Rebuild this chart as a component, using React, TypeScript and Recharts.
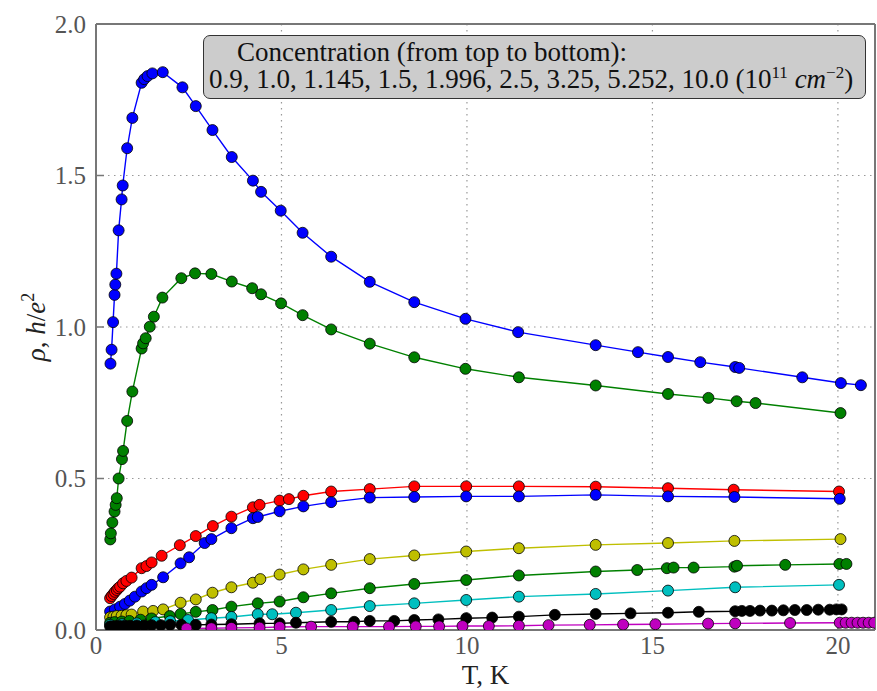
import React from 'react';
import { LineChart, Line, XAxis, YAxis, CartesianGrid } from 'recharts';

// rho(T) for each concentration: [T, rho]
const n0_9: [number, number][] = [
  [0.39, 0.879], [0.42, 0.925], [0.46, 1.016], [0.5, 1.106], [0.52, 1.14], [0.55, 1.176],
  [0.61, 1.319], [0.69, 1.421], [0.72, 1.467], [0.84, 1.59], [0.98, 1.69], [1.23, 1.806],
  [1.3, 1.818], [1.39, 1.828], [1.52, 1.837], [1.8, 1.841], [2.33, 1.791], [2.69, 1.729],
  [3.14, 1.65], [3.66, 1.561], [4.23, 1.483], [4.45, 1.446], [4.98, 1.384], [5.57, 1.311],
  [6.34, 1.232], [7.38, 1.149], [8.58, 1.082], [9.96, 1.027], [11.38, 0.983], [13.47, 0.94],
  [14.61, 0.917], [15.42, 0.901], [16.29, 0.884], [17.23, 0.868], [17.34, 0.865],
  [19.04, 0.834], [20.08, 0.815], [20.62, 0.808],
];
const n1_0: [number, number][] = [
  [0.385, 0.299], [0.4, 0.319], [0.44, 0.355], [0.5, 0.391], [0.53, 0.413], [0.56, 0.435],
  [0.61, 0.5], [0.7, 0.564], [0.73, 0.591], [0.84, 0.69], [0.98, 0.787], [1.23, 0.929],
  [1.27, 0.946], [1.34, 0.963], [1.45, 1.001], [1.56, 1.034], [1.79, 1.097], [2.3, 1.161],
  [2.67, 1.177], [3.11, 1.175], [3.66, 1.15], [4.21, 1.128], [4.45, 1.108], [4.99, 1.078],
  [5.57, 1.039], [6.34, 0.992], [7.38, 0.945], [8.58, 0.9], [9.96, 0.862], [11.4, 0.834],
  [13.47, 0.807], [15.42, 0.779], [16.51, 0.766], [17.27, 0.755], [17.78, 0.749], [20.07, 0.716],
];
const n1_145: [number, number][] = [
  [0.38, 0.105], [0.42, 0.112], [0.47, 0.119], [0.51, 0.126], [0.56, 0.132], [0.6, 0.138],
  [0.65, 0.143], [0.73, 0.154], [0.82, 0.162], [0.96, 0.173], [1.23, 0.204], [1.36, 0.211],
  [1.5, 0.223], [1.77, 0.245], [2.26, 0.28], [2.69, 0.31], [3.15, 0.343], [3.65, 0.374],
  [4.23, 0.405], [4.41, 0.413], [4.95, 0.427], [5.2, 0.432], [5.59, 0.443], [6.34, 0.457],
  [7.38, 0.465], [8.58, 0.474], [9.98, 0.474], [11.4, 0.474], [13.47, 0.473], [15.42, 0.468],
  [17.19, 0.463], [20.03, 0.457],
];
const n1_5: [number, number][] = [
  [0.38, 0.061], [0.51, 0.068], [0.65, 0.077], [0.78, 0.086], [0.91, 0.097], [1.05, 0.11],
  [1.23, 0.127], [1.36, 0.138], [1.5, 0.149], [1.81, 0.174], [2.28, 0.22], [2.51, 0.24],
  [2.93, 0.287], [3.11, 0.3], [3.65, 0.336], [4.23, 0.369], [4.36, 0.373], [4.95, 0.392],
  [5.59, 0.408], [6.34, 0.422], [7.38, 0.437], [8.58, 0.439], [9.98, 0.441], [11.4, 0.441],
  [13.47, 0.446], [15.42, 0.441], [17.21, 0.439], [20.05, 0.433],
];
const n1_996: [number, number][] = [
  [0.38, 0.042], [0.47, 0.044], [0.56, 0.046], [0.69, 0.047], [0.82, 0.049], [0.96, 0.051],
  [1.27, 0.061], [1.54, 0.063], [1.81, 0.068], [2.28, 0.09], [2.69, 0.101], [3.14, 0.123],
  [3.65, 0.141], [4.23, 0.156], [4.43, 0.168], [4.95, 0.183], [5.59, 0.2], [6.34, 0.215],
  [7.38, 0.234], [8.58, 0.246], [9.98, 0.259], [11.4, 0.27], [13.47, 0.281], [15.42, 0.287],
  [17.21, 0.294], [20.07, 0.3],
];
const n2_5: [number, number][] = [
  [0.38, 0.024], [0.5, 0.026], [0.7, 0.028], [0.9, 0.03], [1.2, 0.034], [1.5, 0.038],
  [1.99, 0.046], [2.28, 0.053], [2.69, 0.06], [3.14, 0.066], [3.65, 0.077], [4.36, 0.088],
  [4.95, 0.094], [5.59, 0.108], [6.34, 0.121], [7.38, 0.138], [8.58, 0.152], [9.98, 0.165],
  [11.4, 0.18], [13.47, 0.193], [14.59, 0.198], [15.39, 0.204], [15.57, 0.206], [16.11, 0.206],
  [17.21, 0.209], [17.28, 0.212], [18.58, 0.215], [20.04, 0.218], [20.23, 0.218],
];
const n3_25: [number, number][] = [
  [0.38, 0.017], [0.7, 0.019], [1.1, 0.022], [1.6, 0.026], [2.0, 0.029], [2.48, 0.033],
  [3.11, 0.039], [3.65, 0.043], [4.36, 0.052], [4.75, 0.052], [5.39, 0.057], [6.34, 0.066],
  [7.38, 0.079], [8.58, 0.088], [9.98, 0.099], [11.4, 0.11], [13.47, 0.119], [15.42, 0.13],
  [17.23, 0.141], [20.03, 0.149],
];
const n5_252: [number, number][] = [
  [0.38, 0.012], [0.45, 0.012], [0.55, 0.013], [0.65, 0.013], [0.78, 0.014], [0.92, 0.014],
  [1.1, 0.015], [1.3, 0.015], [1.5, 0.016], [1.75, 0.016], [2.0, 0.017], [2.3, 0.017],
  [2.69, 0.017], [3.11, 0.018], [3.65, 0.019], [4.41, 0.022], [4.95, 0.022], [5.39, 0.024],
  [6.34, 0.027], [6.96, 0.027], [7.38, 0.03], [8.04, 0.03], [8.58, 0.033], [9.23, 0.035],
  [9.98, 0.039], [10.68, 0.041], [11.4, 0.044], [12.37, 0.05], [13.47, 0.053], [14.41, 0.055],
  [15.42, 0.057], [16.25, 0.06], [17.23, 0.062], [17.41, 0.063], [17.63, 0.063], [17.9, 0.064],
  [18.22, 0.064], [18.53, 0.065], [18.84, 0.066], [19.16, 0.066], [19.47, 0.067], [19.78, 0.067],
  [19.96, 0.068], [20.1, 0.068],
];
const n10_0: [number, number][] = [
  [2.44, 0.005], [3.11, 0.006], [3.65, 0.007], [4.41, 0.008], [4.95, 0.01], [5.8, 0.011],
  [6.92, 0.011], [7.9, 0.011], [8.62, 0.012], [9.25, 0.012], [9.88, 0.013], [10.59, 0.013],
  [11.4, 0.014], [12.2, 0.016], [13.31, 0.017], [14.21, 0.018], [15.08, 0.019], [16.5, 0.021],
  [17.23, 0.022], [18.71, 0.023], [20.05, 0.024], [20.21, 0.024], [20.37, 0.024], [20.53, 0.024],
  [20.68, 0.024], [20.83, 0.024], [20.98, 0.024],
];

const series = [
  { name: '0.9', pts: n0_9, color: '#0000ff' },
  { name: '1.0', pts: n1_0, color: '#008000' },
  { name: '1.145', pts: n1_145, color: '#ff0000' },
  { name: '1.5', pts: n1_5, color: '#0000ff' },
  { name: '1.996', pts: n1_996, color: '#bfbf00' },
  { name: '2.5', pts: n2_5, color: '#008000' },
  { name: '3.25', pts: n3_25, color: '#00bfbf' },
  { name: '5.252', pts: n5_252, color: '#000000' },
  { name: '10.0', pts: n10_0, color: '#bf00bf' },
];

const xTicks = [0, 5, 10, 15, 20];
const yTicks = [0, 0.5, 1.0, 1.5, 2.0];

const serif = '"Liberation Serif", "DejaVu Serif", serif';
const frame = { stroke: '#777', strokeWidth: 2 };
const tickStyle = { fill: '#555', fontSize: 25, fontFamily: serif };

const YLabel = ({ viewBox }: any) => {
  const cx = 45;
  const cy = viewBox.y + viewBox.height / 2;
  return (
    <text
      x={cx}
      y={cy}
      transform={`rotate(-90 ${cx} ${cy})`}
      textAnchor="middle"
      fontFamily={serif}
      fontSize={27}
      fill="#222"
    >
      <tspan fontStyle="italic">ρ</tspan>
      <tspan>, </tspan>
      <tspan fontStyle="italic">h</tspan>
      <tspan>/</tspan>
      <tspan fontStyle="italic">e</tspan>
      <tspan dy={-11} fontSize={18}>2</tspan>
    </text>
  );
};

export default function App() {
  return (
    <div style={{ position: 'absolute', left: 0, top: 0, width: 877, height: 691, background: '#fff' }}>
      <LineChart width={877} height={691} margin={{ top: 23, right: 1, bottom: 0, left: 0 }}>
        <CartesianGrid
          xAxisId="b"
          yAxisId="l"
          stroke="#999"
          strokeDasharray="1.5 4.5"
          strokeWidth={1.2}
        />
        <XAxis
          xAxisId="b"
          type="number"
          dataKey="x"
          domain={[0, 21]}
          ticks={xTicks}
          allowDataOverflow
          height={61}
          axisLine={frame}
          tickLine={{ stroke: '#777', strokeWidth: 1.5 }}
          tickSize={-8}
          tickMargin={14}
          tick={tickStyle}
          label={{ value: 'T, K', position: 'insideBottom', offset: 7, fill: '#222', fontSize: 27, fontFamily: serif }}
        />
        <XAxis
          xAxisId="t"
          orientation="top"
          type="number"
          dataKey="x"
          domain={[0, 21]}
          ticks={xTicks}
          height={1}
          axisLine={frame}
          tickLine={{ stroke: '#777', strokeWidth: 1.5 }}
          tickSize={-8}
          tick={false}
        />
        <YAxis
          yAxisId="l"
          type="number"
          domain={[0, 2]}
          ticks={yTicks}
          allowDataOverflow
          width={96}
          axisLine={frame}
          tickLine={{ stroke: '#777', strokeWidth: 1.5 }}
          tickSize={-8}
          tickMargin={18}
          tick={tickStyle}
          tickFormatter={(v: number) => v.toFixed(1)}
          label={<YLabel />}
        />
        <YAxis
          yAxisId="r"
          orientation="right"
          type="number"
          domain={[0, 2]}
          ticks={yTicks}
          width={1}
          axisLine={frame}
          tickLine={{ stroke: '#777', strokeWidth: 1.5 }}
          tickSize={-8}
          tick={false}
        />
        {series.map((s) => (
          <Line
            key={s.name}
            xAxisId="b"
            yAxisId="l"
            data={s.pts.map(([x, y]) => ({ x, y }))}
            dataKey="y"
            name={s.name}
            type="linear"
            stroke={s.color}
            strokeWidth={1.4}
            dot={{ r: 5.5, fill: s.color, stroke: '#000', strokeWidth: 0.8, fillOpacity: 1 }}
            isAnimationActive={false}
          />
        ))}
      </LineChart>
      <div
        style={{
          position: 'absolute',
          left: 203,
          top: 35,
          width: 663,
          height: 64,
          boxSizing: 'border-box',
          background: '#cccccc',
          border: '1.5px solid #333',
          borderRadius: 7,
          fontFamily: serif,
          fontSize: 27,
          lineHeight: '27px',
          color: '#111',
          paddingTop: 3,
          whiteSpace: 'nowrap',
        }}
      >
        <div style={{ paddingLeft: 33 }}>Concentration (from top to bottom):</div>
        <div style={{ paddingLeft: 5 }}>
          0.9, 1.0, 1.145, 1.5, 1.996, 2.5, 3.25, 5.252, 10.0 (10
          <sup style={{ fontSize: 17, lineHeight: 0 }}>11</sup> <i>cm</i>
          <sup style={{ fontSize: 17, lineHeight: 0 }}>−2</sup>)
        </div>
      </div>
    </div>
  );
}
